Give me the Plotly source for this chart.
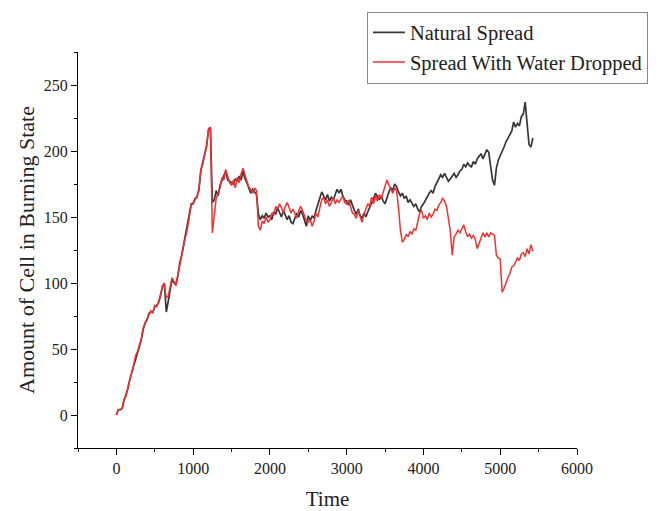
import plotly.graph_objects as go

# Time grid: one reading every 25 time units (0 .. 5425)
time_step = 25

natural_spread = [
    0, 4, 4, 5, 11, 15, 20, 27, 32, 38, 44, 49, 54, 57, 65, 70, 72, 77, 78, 78,
    82, 83, 85, 91, 97, 100, 78, 86, 95, 103, 100, 99, 105, 115, 121, 129, 134, 142, 151, 160,
    160, 164, 165, 171, 185, 191, 196, 204, 216, 217, 161, 163, 170, 166, 174, 178, 181, 185, 178, 177,
    176, 175, 179, 177, 181, 178, 185, 179, 176, 172, 168, 171, 169, 167, 152, 148, 151, 149, 153, 150,
    151, 148, 154, 152, 157, 153, 150, 155, 152, 148, 151, 146, 145, 149, 153, 150, 155, 152, 147, 143,
    151, 147, 151, 149, 155, 160, 164, 169, 166, 163, 167, 162, 165, 163, 167, 171, 168, 171, 166, 163,
    162, 159, 163, 158, 155, 152, 156, 151, 149, 153, 150, 154, 157, 160, 164, 168, 165, 163, 166, 162,
    160, 165, 169, 172, 170, 175, 173, 169, 166, 168, 164, 166, 161, 163, 160, 158, 160, 156, 154, 158,
    160, 163, 165, 168, 170, 168, 173, 176, 178, 182, 180, 183, 180, 177, 179, 181, 183, 180, 182, 185,
    186, 190, 188, 191, 189, 188, 192, 190, 194, 196, 198, 194, 197, 201, 199, 190, 178, 174, 187, 193,
    196, 200, 203, 207, 210, 213, 215, 222, 218, 221, 219, 226, 228, 237, 222, 205, 203, 210,
]

water_dropped = [
    0, 4, 4, 5, 12, 14, 21, 26, 33, 38, 45, 48, 53, 58, 66, 70, 73, 76, 79, 77,
    83, 82, 86, 90, 98, 99, 89, 90, 97, 104, 101, 98, 106, 114, 122, 128, 135, 141, 152, 159,
    161, 163, 166, 170, 186, 190, 197, 203, 217, 218, 138, 152, 164, 168, 172, 180, 178, 186, 180, 176,
    174, 178, 172, 180, 176, 183, 187, 181, 177, 173, 170, 168, 172, 170, 143, 140, 147, 145, 150, 146,
    148, 153, 151, 158, 156, 160, 157, 153, 158, 161, 157, 153, 156, 153, 149, 155, 158, 155, 151, 147,
    146, 148, 143, 147, 153, 150, 157, 163, 165, 160, 163, 158, 161, 165, 160, 163, 161, 164, 166, 161,
    160, 163, 157, 153, 152, 149, 155, 150, 146, 152, 157, 160, 158, 165, 160, 166, 162, 167, 164, 169,
    172, 178, 174, 171, 168, 172, 170, 157, 140, 131, 133, 137, 135, 139, 137, 141, 140, 146, 153, 155,
    149, 151, 148, 153, 150, 152, 156, 155, 159, 161, 164, 162, 158, 149, 139, 121, 135, 137, 140, 138,
    141, 144, 139, 135, 137, 134, 136, 133, 126, 130, 135, 138, 135, 138, 135, 138, 137, 136, 121, 119,
    118, 93, 96, 101, 104, 107, 112, 113, 116, 119, 117, 122, 123, 120, 126, 122, 129, 124,
]

time_natural = [i * time_step for i in range(len(natural_spread))]
time_water = [i * time_step for i in range(len(water_dropped))]

x_ticks = [0, 1000, 2000, 3000, 4000, 5000, 6000]
y_ticks = [0, 50, 100, 150, 200, 250]

FONT = "Liberation Serif, Times New Roman, serif"

fig = go.Figure()
fig.add_trace(go.Scatter(
    x=time_natural, y=natural_spread, mode="lines", name="Natural Spread",
    line=dict(color="rgb(55,55,55)", width=1.7),
))
fig.add_trace(go.Scatter(
    x=time_water, y=water_dropped, mode="lines", name="Spread With Water Dropped",
    line=dict(color="rgb(242,48,48)", width=1.5),
))

axis_common = dict(
    showgrid=False, zeroline=False, showline=True, linecolor="black", linewidth=1.3,
    ticks="outside", ticklen=6, tickwidth=1.3, tickcolor="black",
    tickfont=dict(family=FONT, size=16, color="#222"),
    automargin=False, mirror=False,
)

fig.update_xaxes(
    range=[-500, 6000], tickvals=x_ticks,
    minor=dict(ticks="outside", ticklen=3, dtick=500, tick0=-500, tickcolor="black", tickwidth=1.3),
    title=dict(text="Time", font=dict(family=FONT, size=21, color="#222"), standoff=15),
    **axis_common,
)
fig.update_yaxes(
    range=[-25, 275], tickvals=y_ticks,
    minor=dict(ticks="outside", ticklen=3, dtick=25, tick0=-25, tickcolor="black", tickwidth=1.3),
    title=dict(text="Amount of Cell in Burning State", font=dict(family=FONT, size=22, color="#222"), standoff=2),
    **axis_common,
)

fig.update_layout(
    width=666, height=511,
    margin=dict(l=78, r=89, t=45, b=63),
    paper_bgcolor="white", plot_bgcolor="white",
    font=dict(family=FONT, color="#222"),
    legend=dict(
        x=0.579, y=1.102, xanchor="left", yanchor="top",
        bordercolor="#888", borderwidth=1, bgcolor="white",
        font=dict(family=FONT, size=20.5, color="#222"),
        itemwidth=32, tracegroupgap=0,
    ),
    showlegend=True,
)

fig.write_html("out.html")
